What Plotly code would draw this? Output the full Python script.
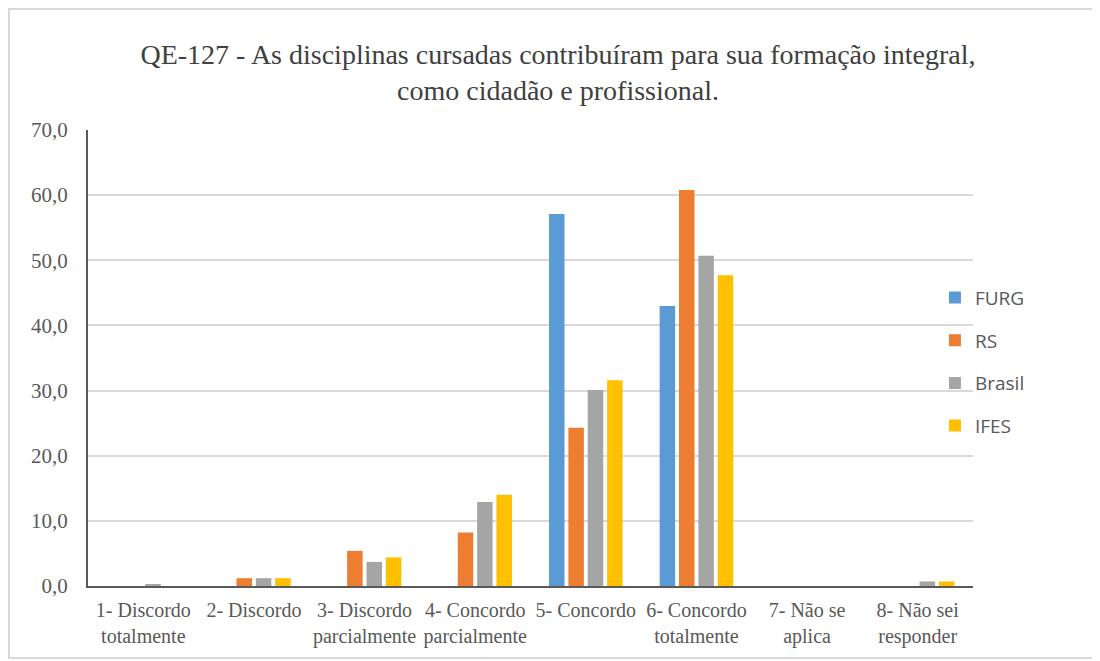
import plotly.graph_objects as go

categorias = ["1- Discordo<br>totalmente", "2- Discordo", "3- Discordo<br>parcialmente",
              "4- Concordo<br>parcialmente", "5- Concordo", "6- Concordo<br>totalmente",
              "7- Não se<br>aplica", "8- Não sei<br>responder"]

furg = [0.0, 0.0, 0.0, 0.0, 57.1, 43.0, 0.0, 0.0]
rs = [0.0, 1.2, 5.4, 8.2, 24.3, 60.8, 0.0, 0.0]
brasil = [0.3, 1.2, 3.7, 12.9, 30.1, 50.7, 0.0, 0.7]
ifes = [0.0, 1.2, 4.4, 14.0, 31.6, 47.7, 0.0, 0.7]

series = [("FURG", furg, "#5b9bd5"), ("RS", rs, "#ed7d31"),
          ("Brasil", brasil, "#a5a5a5"), ("IFES", ifes, "#ffc000")]

fig = go.Figure()
for i, (nome, vals, cor) in enumerate(series):
    fig.add_trace(go.Bar(x=categorias, y=vals, name=nome, marker_color=cor,
                         marker_line_width=0, legendgroup=str(i)))

# the page body has an 8px margin, so positions are shifted by -8px
fig.update_layout(
    width=1100, height=661,
    paper_bgcolor="white", plot_bgcolor="white",
    margin=dict(l=80, r=135, t=122, b=83),
    separators=",.",
    barmode="group", bargap=0.3, bargroupgap=0.2,
    title=dict(text="QE-127 - As disciplinas cursadas contribuíram para sua formação integral,<br>como cidadão e profissional.",
               x=0.5, xref="container", xanchor="center",
               y=0.916, yref="container", yanchor="middle",
               font=dict(family="Liberation Serif", size=28, color="#404040")),
    legend=dict(x=0.957, y=0.492, xanchor="left", yanchor="middle",
                bgcolor="rgba(0,0,0,0)",
                font=dict(family="Open Sans", size=19, color="#595959"),
                tracegroupgap=15, itemwidth=30),
    showlegend=True,
)
fig.update_xaxes(showline=True, linecolor="#595959", linewidth=2,
                 tickfont=dict(family="Liberation Serif", size=20, color="#595959"),
                 ticks="", tickangle=0, automargin=False, ticklabelstandoff=5)
fig.update_yaxes(range=[0, 70], dtick=10, tickformat=".1f",
                 showgrid=True, gridcolor="#d9d9d9", gridwidth=1.5,
                 showline=True, linecolor="#595959", linewidth=2,
                 zeroline=False, ticklabelstandoff=14, automargin=False,
                 tickfont=dict(family="Liberation Serif", size=21, color="#595959"))
fig.add_shape(type="rect", xref="paper", yref="paper",
              x0=-0.0893, x1=1.1424, y0=-0.158, y1=1.2654,
              line=dict(color="#d9d9d9", width=2))

fig.write_html("out.html")
